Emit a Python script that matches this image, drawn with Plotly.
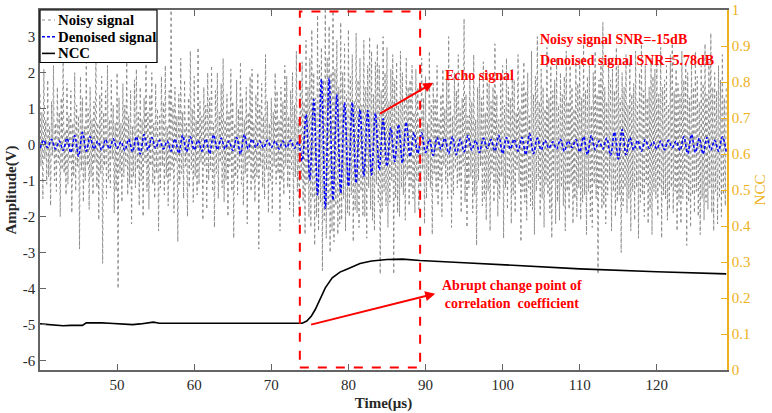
import plotly.graph_objects as go

# ---------------- data ----------------
noisy_t0, noisy_dt = 40.0, 0.125   # µs
noisy_signal = [
    1.4,-0.6,0.9,-1.5,2.1,-0.4,0.7,-1.1,
    1.8,-0.9,0.5,-1.7,1.2,-0.3,2.2,-1.0,
    0.6,-1.3,1.6,-0.5,0.9,-2.0,1.3,-0.7,
    2.4,-0.8,0.4,-1.4,1.7,-1.1,0.8,-0.5,
    1.5,-1.9,0.6,-0.9,2.0,-1.3,1.1,-0.6,
    0.8,-2.9,1.9,-0.7,1.3,-1.6,0.5,-1.0,
    2.3,-0.6,1.0,-1.8,1.6,-0.9,0.7,-1.4,
    1.2,-0.5,2.6,-1.2,0.6,-2.1,1.4,-0.8,
    1.9,-3.3,0.9,-0.6,1.5,-1.5,2.2,-1.0,
    0.7,-1.2,1.8,-0.4,1.1,-1.9,0.6,-1.3,
    2.0,-4.0,1.3,-0.8,0.6,-1.6,1.7,-0.9,
    1.1,-0.6,2.3,-1.4,0.8,-1.1,1.5,-2.2,
    0.5,-0.9,1.8,-1.2,2.1,-0.7,0.9,-1.7,
    1.6,-1.0,0.7,-2.0,1.3,-0.5,2.5,-1.3,
    0.9,-1.8,1.4,-0.6,2.0,-1.1,0.6,-1.5,
    1.7,-0.8,1.0,-2.4,0.8,-1.2,1.9,-0.6,
    1.2,-1.4,2.2,-0.9,0.5,-1.7,1.5,-1.0,
    3.9,-0.7,1.1,-1.9,1.6,-0.5,0.8,-2.7,
    1.4,-1.1,2.4,-0.8,0.9,-1.5,1.8,-0.6,
    0.6,-2.0,1.3,-1.2,2.6,-0.7,1.0,-1.6,
    1.9,-0.9,0.7,-1.4,2.7,-1.1,1.2,-0.5,
    0.8,-2.1,1.6,-0.6,1.1,-1.8,2.0,-1.0,
    1.3,-0.7,2.2,-1.3,0.6,-2.3,1.5,-0.8,
    2.0,-1.5,0.9,-0.5,1.7,-1.2,2.4,-1.6,
    0.7,-1.0,1.4,-2.0,0.9,-0.6,2.1,-1.3,
    1.2,-2.6,0.6,-0.9,1.8,-1.4,1.0,-0.7,
    2.3,-1.1,1.3,-1.7,0.7,-0.8,1.6,-2.2,
    0.9,-0.5,1.9,-1.3,2.1,-1.0,0.6,-1.6,
    1.4,-0.9,2.0,-2.9,1.1,-0.6,1.7,-1.2,
    0.8,-1.5,2.5,-0.7,1.2,-1.9,0.6,-1.0,
    1.3,-1.9,0.9,-0.6,2.0,-1.1,1.5,-0.8,
    0.7,-2.4,1.6,-1.0,1.2,-1.4,2.2,-0.6,
    1.9,-1.2,0.8,-1.8,1.5,-0.7,2.0,-2.0,
    1.1,-0.9,2.6,-1.3,0.7,-2.2,1.8,-1.0,
    2.3,-1.6,1.2,-2.5,2.9,-1.1,1.6,-2.0,
    2.4,-2.3,3.2,-1.5,2.0,-2.8,1.3,-2.0,
    3.6,-2.4,2.2,-1.6,2.7,-3.5,1.8,-2.1,
    3.8,-2.6,2.4,-1.8,3.3,-3.0,2.0,-2.4,
    3.8,-2.7,2.1,-1.7,2.9,-2.5,1.6,-2.2,
    3.4,-2.1,2.0,-1.5,2.8,-2.4,1.4,-1.9,
    3.2,-2.0,1.9,-1.4,2.5,-2.7,1.2,-1.8,
    3.1,-1.9,1.8,-2.3,2.4,-1.3,1.1,-2.0,
    2.9,-2.0,1.6,-2.6,2.2,-1.2,3.0,-1.8,
    2.6,-2.1,1.4,-2.4,2.3,-1.1,2.8,-1.6,
    2.2,-3.6,1.5,-1.9,3.0,-1.3,2.0,-1.7,
    2.7,-2.3,1.2,-1.6,2.1,-1.0,2.5,-3.6,
    1.8,-1.5,2.3,-1.9,1.1,-2.0,2.6,-1.2,
    2.0,-1.4,1.3,-2.1,2.4,-0.9,1.6,-1.7,
    1.8,-1.2,2.2,-1.5,0.9,-1.9,2.1,-1.0,
    1.6,-1.8,0.8,-1.2,2.4,-0.7,1.3,-2.2,
    1.9,-1.5,0.6,-1.0,2.6,-1.2,1.1,-2.5,
    1.7,-0.8,1.3,-1.3,2.2,-1.7,0.7,-1.0,
    1.4,-2.0,2.1,-0.6,1.0,-1.1,1.8,-1.5,
    3.0,-0.9,1.2,-2.3,0.8,-1.4,2.0,-0.7,
    1.5,-1.2,2.5,-1.0,1.0,-1.9,1.3,-0.6,
    3.5,-1.6,1.4,-2.3,0.8,-1.2,2.0,-0.9,
    1.2,-1.9,2.5,-1.4,0.7,-2.8,1.6,-1.0,
    1.9,-0.6,1.3,-1.7,2.3,-1.5,0.9,-2.1,
    2.0,-1.3,1.7,-2.4,1.2,-0.8,1.6,-1.6,
    2.8,-1.1,1.4,-2.0,0.7,-1.5,1.9,-0.9,
    2.2,-2.6,1.1,-1.2,2.4,-1.8,1.6,-1.0,
    1.3,-2.2,2.1,-1.4,1.8,-1.9,0.9,-0.7,
    2.5,-1.1,1.0,-2.7,1.7,-1.3,2.3,-1.6,
    1.5,-2.1,2.0,-1.2,0.8,-1.7,2.6,-1.8,
    1.4,-2.5,1.9,-1.3,3.0,-1.0,1.2,-2.0,
    2.1,-1.5,1.6,-2.3,1.0,-1.1,2.7,-1.4,
    1.3,-1.9,2.2,-2.6,1.5,-1.0,1.8,-2.2,
    2.4,-1.6,1.1,-2.1,2.0,-1.2,1.4,-1.7,
    1.9,-2.4,2.6,-1.3,1.2,-1.8,2.2,-1.1,
    1.6,-2.2,1.0,-1.5,2.3,-2.0,1.7,-1.2,
    2.4,-2.1,1.3,-1.6,2.8,-1.4,1.5,-2.5,
    1.9,-1.3,2.2,-2.0,1.1,-2.3,2.0,-1.1,
    2.6,-1.5,1.4,-3.6,1.8,-1.2,2.3,-1.8,
    3.4,-1.7,1.6,-2.2,1.2,-1.4,2.4,-1.0,
    1.8,-2.4,2.1,-1.3,1.5,-2.0,2.7,-1.6,
    2.2,-1.4,1.3,-3.0,2.0,-1.7,1.6,-1.2,
    2.5,-1.9,1.1,-1.5,2.3,-2.4,1.4,-1.3,
    1.7,-2.1,2.6,-1.2,1.2,-2.6,2.0,-1.6,
    2.8,-1.4,1.5,-2.0,2.2,-1.1,1.3,-2.2,
    1.6,-1.8,2.4,-2.5,1.9,-1.3,2.1,-1.5,
    2.3,-2.0,1.4,-1.2,2.7,-2.6,1.6,-1.4,
    1.8,-1.5,2.2,-2.1,1.1,-1.8,2.5,-1.2,
    2.9,-1.9,1.5,-1.3,2.1,-2.4,1.7,-1.6,
    1.4,-2.2,2.6,-1.5,1.8,-1.1,2.3,-2.8,
    2.0,-1.6,1.3,-2.3,2.4,-1.4,1.6,-1.9,
    2.6,-1.3,1.9,-2.0,1.2,-2.5,2.2,-1.5,
    1.7,-2.1,2.8,-1.6,1.4,-1.8,2.3,-1.2,
    3.1,-1.9,1.6,-2.4,2.0,-1.3,1.5,-2.2,
    2.2,-1.5,1.8,-2.0,2.5,-1.4,1.3,-1.7,
    1.6,
]

denoised_t0, denoised_dt = 40.0, 0.5  # µs (alternating troughs / peaks)
denoised_signal = [
    -0.10,0.12,-0.08,0.15,-0.12,0.10,-0.16,0.18,-0.22,0.25,
    -0.32,0.34,-0.18,0.22,-0.12,0.10,-0.15,0.14,-0.12,0.16,
    -0.10,0.08,-0.16,0.15,-0.20,0.22,-0.26,0.28,-0.15,0.20,
    -0.10,0.12,-0.12,0.10,-0.18,0.16,-0.24,0.26,-0.20,0.22,
    -0.14,0.12,-0.18,0.16,-0.25,0.27,-0.14,0.18,-0.12,0.10,
    -0.16,0.20,-0.26,0.28,-0.12,0.15,-0.08,0.10,-0.09,0.12,
    -0.08,0.10,-0.12,0.10,-0.08,0.12,-0.10,0.08,-0.45,0.84,
    -0.98,1.26,-1.40,1.82,-1.77,1.84,-1.54,1.40,-1.35,1.17,
    -1.16,1.17,-1.07,0.98,-0.88,0.95,-0.84,0.88,-0.70,0.72,
    -0.60,0.47,-0.47,0.56,-0.51,0.62,-0.33,0.33,-0.25,0.33,
    -0.22,0.15,-0.30,0.20,-0.12,0.18,-0.25,0.22,-0.28,0.15,
    -0.20,0.25,-0.15,0.12,-0.22,0.18,-0.10,0.14,-0.18,0.26,
    -0.25,0.20,-0.12,0.15,-0.18,0.20,-0.28,0.30,-0.25,0.18,
    -0.15,0.12,-0.10,0.08,-0.12,0.15,-0.18,0.10,-0.08,0.14,
    -0.20,0.22,-0.28,0.25,-0.14,0.10,-0.12,0.18,-0.30,0.35,
    -0.40,0.42,-0.28,0.20,-0.15,0.12,-0.18,0.14,-0.10,0.08,
    -0.12,0.10,-0.14,0.12,-0.08,0.10,-0.16,0.22,-0.25,0.28,
    -0.22,0.18,-0.26,0.20,-0.15,0.12,-0.18,0.22,-0.20,
]

ncc_time = [40, 41, 42, 43, 44, 45, 45.5, 46, 47, 48, 49, 50, 51, 52, 53, 54, 54.7, 55.5,
            57, 59, 61, 63, 65, 67, 69, 71, 73, 74.0, 74.6, 75.2, 75.7, 76.3, 77.0, 77.9,
            78.9, 79.8, 81.5, 83, 85, 87, 89.3, 95, 102, 110, 120, 129]
ncc_value = [0.128, 0.126, 0.124, 0.123, 0.124, 0.123, 0.124, 0.131, 0.132, 0.131, 0.130,
             0.129, 0.127, 0.126, 0.128, 0.130, 0.133, 0.130, 0.130, 0.131, 0.131, 0.132,
             0.132, 0.132, 0.131, 0.131, 0.130, 0.130, 0.136, 0.150, 0.168, 0.196, 0.228,
             0.256, 0.272, 0.280, 0.296, 0.303, 0.307, 0.308, 0.304, 0.298, 0.290, 0.281,
             0.273, 0.267]

legend_names = ["Noisy signal", "Denoised signal", "NCC"]
x_ticks = [50, 60, 70, 80, 90, 100, 110, 120]
y_left_ticks = [3, 2, 1, 0, -1, -2, -3, -4, -5, -6]
y_right_ticks = [0, 0.1, 0.2, 0.3, 0.4, 0.5, 0.6, 0.7, 0.8, 0.9, 1]

noisy_time = [noisy_t0 + i * noisy_dt for i in range(len(noisy_signal))]
denoised_time = [denoised_t0 + i * denoised_dt for i in range(len(denoised_signal))]

# ---------------- styling ----------------
FONT = "Liberation Serif"
ORANGE = "rgb(237,177,32)"
AXIS = "rgb(100,100,100)"
TXT = "rgb(40,40,40)"
RED = "rgb(255,0,0)"
styles = [
    dict(color="rgb(140,140,140)", width=1, dash="dot"),
    dict(color="rgb(0,0,255)", width=1.6, dash="3px,2px"),
    dict(color="black", width=1.6, dash="solid"),
]

fig = go.Figure()
fig.add_trace(go.Scatter(x=noisy_time, y=noisy_signal, mode="lines", name=legend_names[0],
                         line=styles[0], showlegend=False))
fig.add_trace(go.Scatter(x=denoised_time, y=denoised_signal, mode="lines", name=legend_names[1],
                         line=dict(**styles[1], shape="spline"), showlegend=False))
fig.add_trace(go.Scatter(x=ncc_time, y=ncc_value, mode="lines", name=legend_names[2], yaxis="y2",
                         line=styles[2], showlegend=False))

fig.update_layout(
    width=772, height=413,
    margin=dict(l=40, r=45, t=10, b=43),
    paper_bgcolor="white", plot_bgcolor="white",
    font=dict(family=FONT, size=15, color=TXT),
    showlegend=False,
    xaxis=dict(range=[40, 129.1], showgrid=False, zeroline=False, showline=True, automargin=False,
               linecolor=AXIS, linewidth=1.5, mirror="ticks", ticks="inside", ticklen=6,
               tickcolor=AXIS, tickvals=x_ticks, ticktext=[str(v) for v in x_ticks],
               title=dict(text="<b>Time(μs)</b>", font=dict(family=FONT, size=15, color=TXT),
                          standoff=6)),
    yaxis=dict(range=[-6.26, 3.74], showgrid=False, zeroline=False, showline=True, automargin=False,
               linecolor=AXIS, linewidth=1.5, ticks="inside", ticklen=6, tickcolor=AXIS,
               tickvals=y_left_ticks, ticktext=[str(v) for v in y_left_ticks],
               title=dict(text="<b>Amplitude(V)</b>", font=dict(family=FONT, size=15, color=TXT),
                          standoff=3)),
    yaxis2=dict(range=[0, 1], overlaying="y", side="right", showgrid=False, zeroline=False,
                automargin=False,
                showline=True, linecolor=ORANGE, linewidth=1.5, ticks="inside", ticklen=6,
                tickcolor=ORANGE, tickvals=y_right_ticks, ticktext=[f"{v:g}" for v in y_right_ticks],
                tickfont=dict(family=FONT, size=15, color=ORANGE),
                title=dict(text="NCC", font=dict(family=FONT, size=15, color=ORANGE), standoff=4)),
)

# legend box (drawn in the top-left corner, MATLAB style)
PW, PH = 687.0, 360.0
def px(xp):
    return (xp - 40) / PW
def py(yp):
    return (370 - yp) / PH
fig.add_shape(type="rect", xref="paper", yref="paper", x0=px(40), x1=px(157), y0=py(62.5), y1=py(10),
              line=dict(color="black", width=1.2), fillcolor="white", layer="above")
for i, (name, st) in enumerate(zip(legend_names, styles)):
    yrow = py(20 + i * 16.7)
    fig.add_shape(type="line", xref="paper", yref="paper", x0=px(42), x1=px(55), y0=yrow, y1=yrow,
                  line=dict(color=st["color"], width=st["width"], dash=st["dash"]), layer="above")
    fig.add_annotation(x=px(56), y=yrow, xref="paper", yref="paper", text=f"<b>{name}</b>",
                       showarrow=False, xanchor="left", yanchor="middle",
                       font=dict(family=FONT, size=14.8, color="black"))

# red dashed box around echo
fig.add_shape(type="rect", xref="x", yref="y", x0=73.7, x1=89.3, y0=-6.19, y1=3.7,
              line=dict(color=RED, width=2, dash="dash"), fillcolor="rgba(0,0,0,0)")

# arrows
fig.add_annotation(x=91.0, y=1.72, ax=83.9, ay=0.84, xref="x", yref="y", axref="x", ayref="y",
                   text="", showarrow=True, arrowhead=2, arrowsize=1, arrowwidth=2, arrowcolor=RED)
fig.add_annotation(x=91.26, y=-4.14, ax=74.96, ay=-5.01, xref="x", yref="y", axref="x", ayref="y",
                   text="", showarrow=True, arrowhead=2, arrowsize=1, arrowwidth=2, arrowcolor=RED)

txt = dict(family=FONT, size=14, color=RED)
fig.add_annotation(x=92.25, y=1.91, xref="x", yref="y", text="<b>Echo signal</b>", showarrow=False,
                   xanchor="left", yanchor="middle", font=txt)
fig.add_annotation(x=104.65, y=2.93, xref="x", yref="y", text="<b>Noisy signal SNR=-15dB</b>",
                   showarrow=False, xanchor="left", yanchor="middle", font=txt)
fig.add_annotation(x=104.65, y=2.33, xref="x", yref="y", text="<b>Denoised signal SNR=5.78dB</b>",
                   showarrow=False, xanchor="left", yanchor="middle", font=txt)
fig.add_annotation(x=101.24, y=-4.16, xref="x", yref="y",
                   text="<b>Abrupt change point of<br>correlation  coefficient</b>",
                   showarrow=False, xanchor="center", yanchor="middle", align="center", font=txt)

fig.write_html("out.html")
